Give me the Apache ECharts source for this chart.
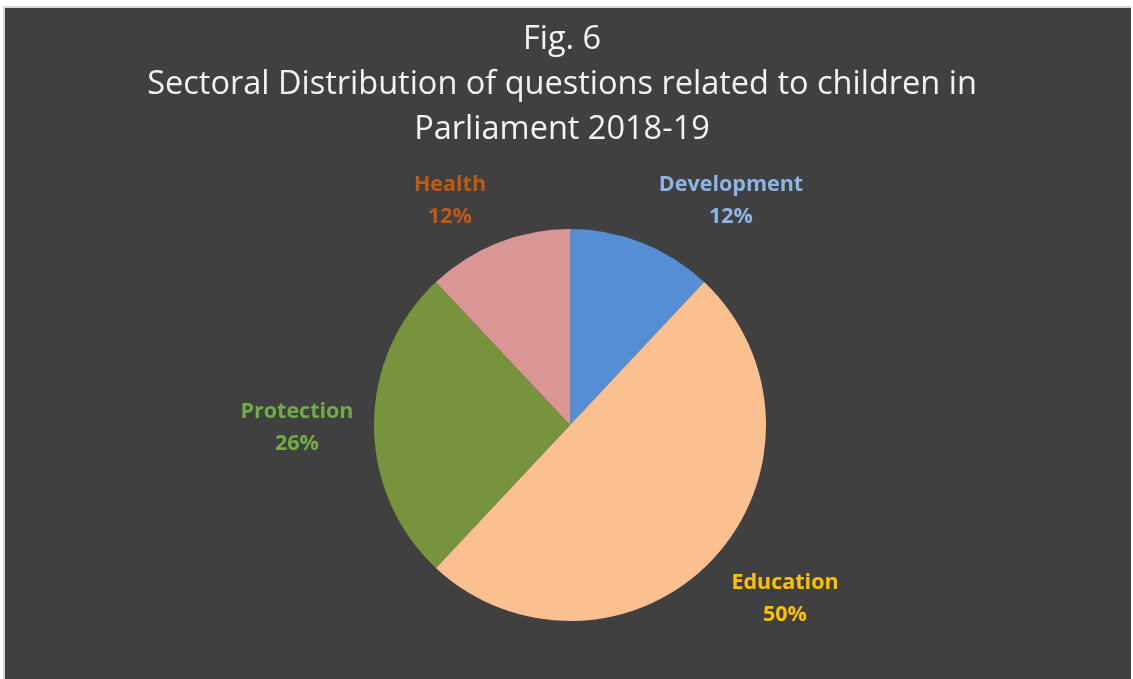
<!DOCTYPE html>
<html><head><meta charset="utf-8">
<script src="https://cdn.jsdelivr.net/npm/echarts@6/dist/echarts.min.js"></script>
<style>
html,body{margin:0;padding:0;background:#fff;width:1133px;height:679px;overflow:hidden;}
#frame{position:absolute;left:3px;top:6px;width:1128px;height:673px;background:#d9d9d9;}
#chart{position:absolute;left:5px;top:8px;width:1126px;height:671px;}
</style></head>
<body>
<div id="frame"></div>
<div id="chart"></div>
<script>
const categories = ["Development", "Education", "Protection", "Health"];
const values = [12, 50, 26, 12];
const sliceColors = ["#558ED5", "#FAC090", "#77933C", "#D99694"];
const labelColors = ["#8EB4E3", "#FFC000", "#70AD47", "#BF5A15"];
const titleLines = ["Fig. 6", "Sectoral Distribution of questions related to children in", "Parliament 2018-19"];

const chart = echarts.init(document.getElementById('chart'));
// label anchor offsets (from pie centre, px) to mimic Excel best-fit placement
const labelOffsets = [[161, -224], [215, 174], [-273, 3], [-120, -224]];
const cx = 565, cy = 417;
chart.setOption({
  backgroundColor: '#404040',
  animation: false,
  title: {
    text: titleLines.join('\n'),
    left: 552, top: 4,
    textAlign: 'center',
    textStyle: {color: '#F2F2F2', fontSize: 32.5, fontWeight: 'normal', fontFamily: 'Open Sans', lineHeight: 45}
  },
  series: [{
    type: 'pie',
    center: [cx, cy],
    radius: 196,
    startAngle: 90,
    clockwise: true,
    label: {
      show: true, position: 'outside',
      formatter: p => p.name + '\n' + p.percent.toFixed(0) + '%',
      fontFamily: 'Open Sans', fontWeight: 'bold', fontSize: 21.5, lineHeight: 32, align: 'center'
    },
    labelLine: {show: false},
    labelLayout: function (params) {
      const o = labelOffsets[params.dataIndex];
      return {x: cx + o[0], y: cy + o[1], align: 'center', verticalAlign: 'middle'};
    },
    itemStyle: {borderWidth: 0},
    emphasis: {disabled: true},
    data: categories.map((c, i) => ({
      name: c, value: values[i],
      itemStyle: {color: sliceColors[i]},
      label: {color: labelColors[i]}
    }))
  }]
});
</script>
</body></html>
